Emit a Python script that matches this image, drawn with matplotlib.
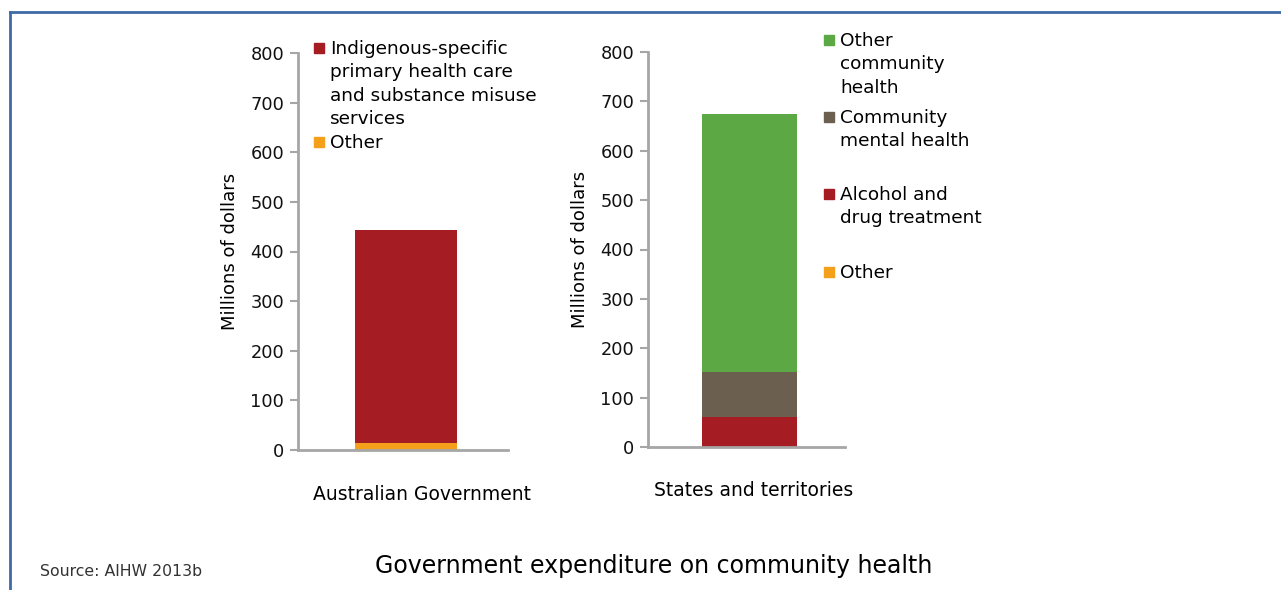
import matplotlib.pyplot as plt
from matplotlib.lines import Line2D
from matplotlib.patches import Rectangle

# Data (millions of dollars)
aus_labels = ["Indigenous-specific\nprimary health care\nand substance misuse\nservices", "Other"]
aus_values = [429, 14]  # stacked top, bottom
aus_colors = ["#A51C22", "#F5A01A"]

st_labels = ["Other\ncommunity\nhealth", "Community\nmental health", "Alcohol and\ndrug treatment", "Other"]
st_values = [522, 91, 61, 0.5]
st_colors = ["#5BA845", "#6B604F", "#A51C22", "#F5A01A"]

yticks = [0, 100, 200, 300, 400, 500, 600, 700, 800]

W, H = 1281, 590
fig = plt.figure(figsize=(W / 100, H / 100), dpi=100)
plt.rcParams["font.family"] = ["DejaVu Sans"]
axis_grey = "#a6a6a6"


def fx(px):
    return px / W


def fy(py):
    return 1 - py / H


def stacked(ax, values, colors):
    # values listed top-down, so stack bottom-up
    bottom = 0
    for v, c in zip(values[::-1], colors[::-1]):
        ax.bar(0, v, width=1.0, bottom=bottom, color=c, linewidth=0)
        bottom += v
    ax.set_xlim(-1.06, 1.0)
    ax.set_ylim(0, 800)
    ax.set_yticks(yticks)
    ax.set_xticks([])
    for s in ["top", "right"]:
        ax.spines[s].set_visible(False)
    for s in ["left", "bottom"]:
        ax.spines[s].set_color(axis_grey)
        ax.spines[s].set_linewidth(2)
    ax.tick_params(axis="y", colors=axis_grey, labelcolor="#111111",
                   labelsize=12.8, length=6, width=1.5, pad=4)


ax1 = fig.add_axes([fx(298), fy(450), fx(508 - 298), (450 - 53) / H])
stacked(ax1, aus_values, aus_colors)
ax1.set_ylabel("Millions of dollars", fontsize=13, labelpad=8)

ax2 = fig.add_axes([fx(648), fy(447), fx(845 - 648), (447 - 52) / H])
stacked(ax2, st_values, st_colors)
ax2.set_ylabel("Millions of dollars", fontsize=13, labelpad=8)

fig.text(fx(422), fy(494), "Australian Government", ha="center", va="center", fontsize=13.5)
fig.text(fx(754), fy(491), "States and territories", ha="center", va="center", fontsize=13.5)


def legend_entry(x, y, label, color):
    sq = 10
    fig.patches.append(Rectangle((fx(x), fy(y + sq / 2)), fx(sq), sq / H,
                                 transform=fig.transFigure, color=color))
    fig.text(fx(x + 16), fy(y - 8), label, ha="left", va="top", fontsize=13.3,
             linespacing=1.38, transform=fig.transFigure)


legend_entry(314, 48, aus_labels[0], aus_colors[0])
legend_entry(314, 142, aus_labels[1], aus_colors[1])

for yy, lab, col in zip([40, 117, 194, 272], st_labels, st_colors):
    legend_entry(824, yy, lab, col)

fig.text(fx(654), fy(566), "Government expenditure on community health",
         ha="center", va="center", fontsize=17)
fig.text(fx(40), fy(571), "Source: AIHW 2013b", ha="left", va="center",
         fontsize=11.3, color="#333333")

# frame lines
fig.add_artist(Line2D([fx(10), 1], [fy(12), fy(12)], color="#3F6AA6", lw=2))
fig.add_artist(Line2D([fx(10), fx(10)], [fy(12), 0], color="#3F6AA6", lw=2))

fig.savefig("out.png", dpi=100)
